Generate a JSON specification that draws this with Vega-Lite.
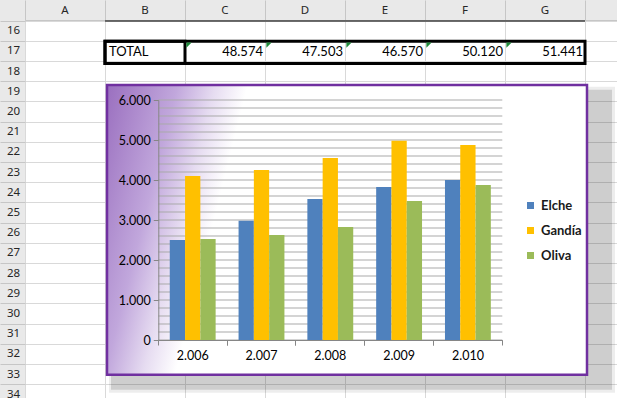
{
  "$schema": "https://vega.github.io/schema/vega-lite/v6.json",
  "width": 592,
  "height": 378,
  "autosize": {"type": "none"},
  "padding": {"left": 25, "top": 20, "right": 0, "bottom": 0},
  "background": "#e9e9e9",
  "config": {
    "locale": {"number": {"decimal": ",", "thousands": ".", "grouping": [3], "currency": ["", " €"]}},
    "view": {"fill": "white", "stroke": "#c6c6c6", "strokeWidth": 1},
    "font": "Lato"
  },
  "datasets": {
    "bars": [
      {"year": 2006, "city": "Elche", "value": 2500},
      {"year": 2006, "city": "Gandía", "value": 4100},
      {"year": 2006, "city": "Oliva", "value": 2525},
      {"year": 2007, "city": "Elche", "value": 2980},
      {"year": 2007, "city": "Gandía", "value": 4250},
      {"year": 2007, "city": "Oliva", "value": 2625},
      {"year": 2008, "city": "Elche", "value": 3525},
      {"year": 2008, "city": "Gandía", "value": 4550},
      {"year": 2008, "city": "Oliva", "value": 2825},
      {"year": 2009, "city": "Elche", "value": 3825},
      {"year": 2009, "city": "Gandía", "value": 4980},
      {"year": 2009, "city": "Oliva", "value": 3475},
      {"year": 2010, "city": "Elche", "value": 4000},
      {"year": 2010, "city": "Gandía", "value": 4875},
      {"year": 2010, "city": "Oliva", "value": 3875}
    ],
    "grid": [
      {"g": 0}, {"g": 200}, {"g": 400}, {"g": 600}, {"g": 800}, {"g": 1000},
      {"g": 1200}, {"g": 1400}, {"g": 1600}, {"g": 1800}, {"g": 2000},
      {"g": 2200}, {"g": 2400}, {"g": 2600}, {"g": 2800}, {"g": 3000},
      {"g": 3200}, {"g": 3400}, {"g": 3600}, {"g": 3800}, {"g": 4000},
      {"g": 4200}, {"g": 4400}, {"g": 4600}, {"g": 4800}, {"g": 5000},
      {"g": 5200}, {"g": 5400}, {"g": 5600}, {"g": 5800}, {"g": 6000}
    ],
    "totals": [
      {"col": "C", "row": 17, "value": 48574},
      {"col": "D", "row": 17, "value": 47503},
      {"col": "E", "row": 17, "value": 46570},
      {"col": "F", "row": 17, "value": 50120},
      {"col": "G", "row": 17, "value": 51441}
    ]
  },
  "resolve": {
    "scale": {"x": "independent", "y": "independent"},
    "axis": {"x": "independent", "y": "independent"}
  },
  "layer": [
    {
      "data": {"values": [{"col": "B", "col2": "H", "row": 16}]},
      "mark": {"type": "rule", "color": "#000000", "strokeWidth": 1},
      "encoding": {
        "x": {"field": "col", "type": "nominal", "bandPosition": 0,
          "scale": {"type": "band", "domain": ["A","B","C","D","E","F","G","H"], "range": [0, 640], "paddingInner": 0, "paddingOuter": 0},
          "axis": {"orient": "top", "bandPosition": 0, "domain": false, "grid": true, "gridColor": "#d9d9d9", "gridWidth": 1,
            "ticks": true, "tickSize": 20, "tickColor": "#c6c6c6", "labelOffset": 0, "labelPadding": -10,
            "labelBaseline": "middle", "labelAlign": "center", "labelAngle": 0, "labelFont": "Noto Sans", "labelFontSize": 11.5,
            "labelExpr": "datum.value == 'H' ? '' : datum.value",
            "labelColor": "#262626", "labelOverlap": false, "title": null, "zindex": 0}},
        "x2": {"field": "col2", "bandPosition": 0},
        "y": {"field": "row", "type": "ordinal", "bandPosition": 0,
          "scale": {"type": "band", "domain": [16,17,18,19,20,21,22,23,24,25,26,27,28,29,30,31,32,33,34], "range": [1, 385], "paddingInner": 0, "paddingOuter": 0},
          "axis": {"orient": "left", "bandPosition": 0, "domain": false, "grid": true, "gridColor": "#d9d9d9", "gridWidth": 1,
            "ticks": true, "tickSize": 25, "tickColor": "#c6c6c6", "labelOffset": 0, "labelPadding": -13,
            "labelBaseline": "middle", "labelAlign": "center", "labelFont": "Noto Sans", "labelFontSize": 11.5,
            "labelColor": "#262626", "labelOverlap": false, "title": null, "zindex": 0}}
      }
    },
    {
      "data": {"values": [{"col": "B", "col2": "H", "row": 19, "row2": 34}]},
      "mark": {"type": "rect", "fill": "#000000", "fillOpacity": 0.07, "xOffset": 4, "x2Offset": 0},
      "encoding": {
        "x": {"field": "col", "type": "nominal", "bandPosition": 0, "scale": {"type": "band", "domain": ["A","B","C","D","E","F","G","H"], "range": [0, 640], "paddingInner": 0, "paddingOuter": 0}, "axis": null},
        "x2": {"field": "col2", "bandPosition": 0.375},
        "y": {"field": "row", "type": "ordinal", "bandPosition": 0.25, "scale": {"type": "band", "domain": [16,17,18,19,20,21,22,23,24,25,26,27,28,29,30,31,32,33,34], "range": [1, 385], "paddingInner": 0, "paddingOuter": 0}, "axis": null},
        "y2": {"field": "row2", "bandPosition": 0.4}
      }
    },
    {
      "data": {"values": [{"col": "B", "col2": "H", "row": 19, "row2": 34}]},
      "mark": {"type": "rect", "fill": "#000000", "fillOpacity": 0.13, "xOffset": 6, "x2Offset": -3, "yOffset": 3, "y2Offset": -3},
      "encoding": {
        "x": {"field": "col", "type": "nominal", "bandPosition": 0, "scale": {"type": "band", "domain": ["A","B","C","D","E","F","G","H"], "range": [0, 640], "paddingInner": 0, "paddingOuter": 0}, "axis": null},
        "x2": {"field": "col2", "bandPosition": 0.375},
        "y": {"field": "row", "type": "ordinal", "bandPosition": 0.25, "scale": {"type": "band", "domain": [16,17,18,19,20,21,22,23,24,25,26,27,28,29,30,31,32,33,34], "range": [1, 385], "paddingInner": 0, "paddingOuter": 0}, "axis": null},
        "y2": {"field": "row2", "bandPosition": 0.4}
      }
    },
    {
      "data": {"values": [{"col": "B", "col2": "H", "row": 19, "row2": 33}]},
      "mark": {"type": "rect", "stroke": "#7030a0", "strokeWidth": 2.5, "xOffset": 2, "x2Offset": 2,
        "fill": {"gradient": "linear", "x1": 0, "y1": 0, "x2": 0.287, "y2": 0.0435,
          "stops": [
            {"offset": 0, "color": "#9a6fbf"},
            {"offset": 0.5, "color": "#c1a7dc"},
            {"offset": 0.77, "color": "#e6dcf1"},
            {"offset": 1, "color": "#ffffff"}
          ]}},
      "encoding": {
        "x": {"field": "col", "type": "nominal", "bandPosition": 0, "scale": {"type": "band", "domain": ["A","B","C","D","E","F","G","H"], "range": [0, 640], "paddingInner": 0, "paddingOuter": 0}, "axis": null},
        "x2": {"field": "col2", "bandPosition": 0},
        "y": {"field": "row", "type": "ordinal", "bandPosition": 0.17, "scale": {"type": "band", "domain": [16,17,18,19,20,21,22,23,24,25,26,27,28,29,30,31,32,33,34], "range": [1, 385], "paddingInner": 0, "paddingOuter": 0}, "axis": null},
        "y2": {"field": "row2", "bandPosition": 0.5}
      }
    },
    {
      "data": {"values": [{"col": "B", "col2": "H", "row": 17, "row2": 18}, {"col": "B", "col2": "C", "row": 17, "row2": 18}]},
      "mark": {"type": "rect", "fill": "#ffffff", "fillOpacity": 0, "stroke": "#000000", "strokeWidth": 3},
      "encoding": {
        "x": {"field": "col", "type": "nominal", "bandPosition": 0, "scale": {"type": "band", "domain": ["A","B","C","D","E","F","G","H"], "range": [0, 640], "paddingInner": 0, "paddingOuter": 0}, "axis": null},
        "x2": {"field": "col2", "bandPosition": 0},
        "y": {"field": "row", "type": "ordinal", "bandPosition": 0, "scale": {"type": "band", "domain": [16,17,18,19,20,21,22,23,24,25,26,27,28,29,30,31,32,33,34], "range": [1, 385], "paddingInner": 0, "paddingOuter": 0}, "axis": null},
        "y2": {"field": "row2", "bandPosition": 0.1}
      }
    },
    {
      "data": {"values": [{"col": "B", "row": 17, "label": "TOTAL"}]},
      "mark": {"type": "text", "align": "left", "baseline": "middle", "dx": 4, "dy": 1, "font": "Lato", "fontSize": 13, "color": "#000000"},
      "encoding": {
        "x": {"field": "col", "type": "nominal", "bandPosition": 0, "scale": {"type": "band", "domain": ["A","B","C","D","E","F","G","H"], "range": [0, 640], "paddingInner": 0, "paddingOuter": 0}, "axis": null},
        "y": {"field": "row", "type": "ordinal", "bandPosition": 0.5, "scale": {"type": "band", "domain": [16,17,18,19,20,21,22,23,24,25,26,27,28,29,30,31,32,33,34], "range": [1, 385], "paddingInner": 0, "paddingOuter": 0}, "axis": null},
        "text": {"field": "label"}
      }
    },
    {
      "data": {"name": "totals"},
      "mark": {"type": "text", "align": "right", "baseline": "middle", "dx": -2, "dy": 1, "font": "Lato", "fontSize": 13, "color": "#000000"},
      "encoding": {
        "x": {"field": "col", "type": "nominal", "bandPosition": 1, "scale": {"type": "band", "domain": ["A","B","C","D","E","F","G","H"], "range": [0, 640], "paddingInner": 0, "paddingOuter": 0}, "axis": null},
        "y": {"field": "row", "type": "ordinal", "bandPosition": 0.5, "scale": {"type": "band", "domain": [16,17,18,19,20,21,22,23,24,25,26,27,28,29,30,31,32,33,34], "range": [1, 385], "paddingInner": 0, "paddingOuter": 0}, "axis": null},
        "text": {"field": "value", "type": "quantitative", "format": ",d"}
      }
    },
    {
      "data": {"name": "totals"},
      "mark": {"type": "point", "shape": "M-1,-1L1,-1L-1,1Z", "size": 28, "filled": true, "color": "#1f8a3b", "opacity": 1, "xOffset": 4, "yOffset": 4},
      "encoding": {
        "x": {"field": "col", "type": "nominal", "bandPosition": 0, "scale": {"type": "band", "domain": ["A","B","C","D","E","F","G","H"], "range": [0, 640], "paddingInner": 0, "paddingOuter": 0}, "axis": null},
        "y": {"field": "row", "type": "ordinal", "bandPosition": 0, "scale": {"type": "band", "domain": [16,17,18,19,20,21,22,23,24,25,26,27,28,29,30,31,32,33,34], "range": [1, 385], "paddingInner": 0, "paddingOuter": 0}, "axis": null}
      }
    },
    {
      "data": {"name": "grid"},
      "mark": {"type": "rule", "color": "#a9a9a9", "strokeWidth": 1},
      "encoding": {
        "x": {"datum": 2006, "type": "ordinal", "bandPosition": 0, "scale": {"type": "band", "domain": [2006, 2007, 2008, 2009, 2010], "range": [133.3, 477.3], "paddingInner": 0, "paddingOuter": 0},
          "axis": {"orient": "bottom", "offset": -58, "bandPosition": 1, "domain": false, "ticks": true, "tickSize": 5, "tickColor": "#868686",
            "labels": false, "grid": false, "title": null, "zindex": 1}},
        "x2": {"datum": 2010, "bandPosition": 1},
        "y": {"field": "g", "type": "quantitative", "scale": {"domain": [0, 6000], "range": [320, 80], "nice": false, "zero": true}, "axis": null}
      }
    },
    {
      "data": {"name": "bars"},
      "mark": {"type": "bar"},
      "encoding": {
        "x": {"field": "year", "type": "ordinal",
          "scale": {"type": "band", "domain": [2006, 2007, 2008, 2009, 2010], "range": [133.3, 477.3], "paddingInner": 0, "paddingOuter": 0},
          "axis": {"orient": "bottom", "offset": -58, "bandPosition": 0, "domain": true, "domainColor": "#868686", "ticks": true, "tickSize": 5,
            "tickColor": "#868686", "labelOffset": 0, "labelPadding": 4, "labelAngle": 0, "labelAlign": "center",
            "labelExpr": "format(datum.value, ',d')", "labelFont": "Lato", "labelFontSize": 12.5, "labelColor": "#000000",
            "grid": false, "title": null, "zindex": 1}},
        "xOffset": {"field": "city", "type": "nominal", "scale": {"domain": ["Elche", "Gandía", "Oliva"], "paddingInner": 0, "paddingOuter": 0.75}},
        "y": {"field": "value", "type": "quantitative",
          "scale": {"domain": [0, 6000], "range": [320, 80], "nice": false, "zero": true},
          "axis": {"orient": "left", "offset": -133.3, "values": [0, 1000, 2000, 3000, 4000, 5000, 6000], "format": ",d",
            "domain": true, "domainColor": "#868686", "ticks": true, "tickSize": 5, "tickColor": "#868686", "labelPadding": 3,
            "labelFont": "Lato", "labelFontSize": 12.5, "labelColor": "#000000", "grid": false, "title": null, "zindex": 1}},
        "color": {"field": "city", "type": "nominal",
          "scale": {"domain": ["Elche", "Gandía", "Oliva"], "range": ["#4f81bd", "#ffc000", "#9bbb59"]},
          "legend": {"orient": "none", "legendX": 499, "legendY": 179, "padding": 0, "title": null, "symbolType": "square",
            "symbolSize": 49, "symbolStrokeWidth": 0, "symbolOpacity": 1, "labelOffset": 4, "rowPadding": 11,
            "labelFont": "Lato", "labelFontSize": 13, "labelFontWeight": "bold", "labelColor": "#1a1a1a", "zindex": 1}}
      }
    }
  ]
}
